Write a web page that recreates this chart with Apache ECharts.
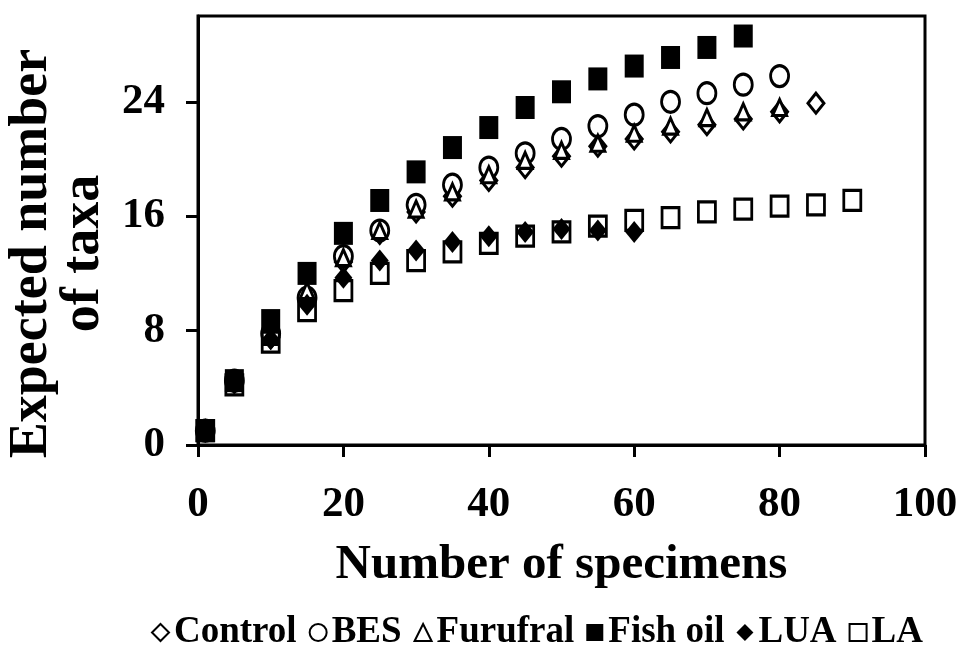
<!DOCTYPE html>
<html>
<head>
<meta charset="utf-8">
<script src="https://cdn.jsdelivr.net/npm/echarts@6/dist/echarts.min.js"></script>
<style>
  html, body { margin: 0; padding: 0; background: #fff; }
  #chart { width: 959px; height: 648px; }
</style>
</head>
<body>
<div id="chart"></div>
<script>
// sample sizes (x) shared by all treatments
const specimens = [1, 5, 10, 15, 20, 25, 30, 35, 40, 45, 50, 55, 60, 65, 70, 75, 80, 85, 90];

// expected number of taxa
const control = [1, 4.4, 7.5, 10.2, 12.8, 14.8, 16.3, 17.4, 18.5, 19.4, 20.2, 20.9, 21.4, 21.9, 22.4, 22.8, 23.3, 23.9];
const bes = [1, 4.5, 7.8, 10.3, 13.2, 15.0, 16.8, 18.2, 19.4, 20.4, 21.4, 22.3, 23.1, 24.0, 24.6, 25.2, 25.8];
const furufral = [1, 4.4, 7.6, 10.8, 13.1, 15.0, 16.5, 17.7, 18.9, 19.9, 20.6, 21.1, 21.8, 22.3, 22.9, 23.3, 23.6];
const fishOil = [1, 4.5, 8.7, 12.0, 14.8, 17.1, 19.1, 20.8, 22.2, 23.6, 24.7, 25.6, 26.5, 27.1, 27.8, 28.6];
const lua = [1, 4.3, 7.4, 9.8, 11.7, 12.9, 13.6, 14.2, 14.6, 14.9, 15.1, 15.0, 14.9];
const la = [1, 4.2, 7.2, 9.4, 10.8, 12.0, 12.9, 13.5, 14.1, 14.6, 14.9, 15.3, 15.7, 15.9, 16.3, 16.5, 16.7, 16.8, 17.1];

const yTicks = [0, 8, 16, 24];
const legendOrder = ["Control", "BES", "Furufral", "Fish oil", "LUA", "LA"];

const serif = "'Liberation Serif', 'Times New Roman', serif";

function pairs(values) {
  return values.map((v, i) => [specimens[i], v]);
}

// open markers: white fill + black outline
function openStyle(fill) {
  return { color: fill || "#fff", borderColor: "#000", borderWidth: 3, opacity: 1 };
}

const chart = echarts.init(document.getElementById("chart"), null, { renderer: "canvas" });

chart.setOption({
  backgroundColor: "#fff",
  animation: false,
  grid: {
    left: 198,
    right: 34,
    top: 16,
    bottom: 203,
    containLabel: false,
    outerBoundsMode: "none",
    show: true,
    borderColor: "#000",
    borderWidth: 3,
    backgroundColor: "transparent"
  },
  legend: {
    data: legendOrder,
    left: 146,
    top: 609,
    itemWidth: 17,
    itemHeight: 17,
    itemGap: 12,
    textStyle: {
      fontFamily: serif,
      fontWeight: "bold",
      fontSize: 37,
      color: "#000"
    },
    itemStyle: { borderWidth: 2 }
  },
  xAxis: {
    type: "value",
    min: 0,
    max: 100,
    interval: 20,
    name: "Number of specimens",
    nameLocation: "middle",
    nameGap: 96,
    nameTextStyle: {
      fontFamily: serif,
      fontWeight: "bold",
      fontSize: 49,
      color: "#000"
    },
    axisLine: { show: true, lineStyle: { color: "#000", width: 3 } },
    axisTick: { show: true, length: 12, lineStyle: { color: "#000", width: 3 } },
    axisLabel: {
      margin: 38,
      fontFamily: serif,
      fontWeight: "bold",
      fontSize: 43,
      color: "#000"
    },
    splitLine: { show: false }
  },
  yAxis: {
    type: "value",
    min: 0,
    max: 30,
    name: "Expected number\nof taxa",
    nameLocation: "middle",
    nameGap: 88,
    nameTextStyle: {
      fontFamily: serif,
      fontWeight: "bold",
      fontSize: 54,
      lineHeight: 52,
      color: "#000",
      padding: [0, 46, 0, 0]
    },
    axisLine: { show: true, lineStyle: { color: "#000", width: 3 } },
    axisTick: {
      show: true,
      length: 12,
      customValues: yTicks,
      lineStyle: { color: "#000", width: 3 }
    },
    axisLabel: {
      margin: 33,
      customValues: yTicks,
      fontFamily: serif,
      fontWeight: "bold",
      fontSize: 43,
      color: "#000"
    },
    splitLine: { show: false }
  },
  // drawing order follows the legend: later series sit on top
  series: [
    {
      name: "Control",
      type: "scatter",
      z: 2,
      symbol: "diamond",
      symbolSize: [16, 20],
      itemStyle: openStyle(),
      data: pairs(control)
    },
    {
      name: "BES",
      type: "scatter",
      z: 3,
      symbol: "circle",
      symbolSize: [18, 21],
      itemStyle: openStyle(),
      data: pairs(bes)
    },
    {
      name: "Furufral",
      type: "scatter",
      z: 4,
      symbol: "triangle",
      symbolSize: [14, 16],
      itemStyle: openStyle(),
      data: pairs(furufral)
    },
    {
      name: "Fish oil",
      type: "scatter",
      z: 5,
      symbol: "rect",
      symbolSize: [19, 23],
      itemStyle: { color: "#000", opacity: 1 },
      data: pairs(fishOil)
    },
    {
      name: "LUA",
      type: "scatter",
      z: 6,
      symbol: "diamond",
      symbolSize: [18, 22],
      itemStyle: { color: "#000", opacity: 1 },
      data: pairs(lua)
    },
    {
      name: "LA",
      type: "scatter",
      z: 7,
      symbol: "rect",
      symbolSize: [17, 20],
      itemStyle: openStyle("rgba(255,255,255,0)"),
      data: pairs(la)
    }
  ]
});
</script>
</body>
</html>
